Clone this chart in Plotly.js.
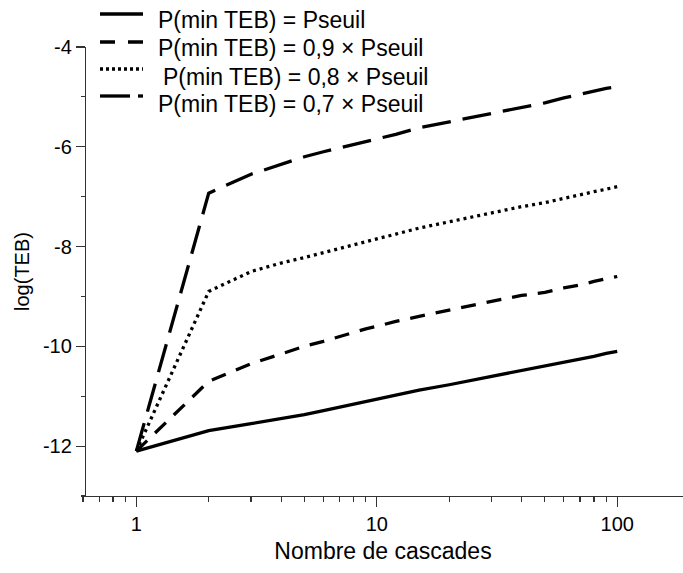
<!DOCTYPE html>
<html>
<head>
<meta charset="utf-8">
<script src="https://cdn.plot.ly/plotly-3.0.1.min.js"></script>
<style>
html,body{margin:0;padding:0;background:#fff;}
#chart{width:683px;height:573px;}
</style>
</head>
<body>
<div id="chart"></div>
<script>
// Number of cascades (x values)
const cascades = [1,2,3,4,5,6,7,8,9,10,12,15,20,25,30,40,50,60,70,80,90,100];
// log(TEB) series
const teb_100 = [-12.1,-11.69,-11.55,-11.45,-11.37,-11.29,-11.22,-11.16,-11.1,-11.05,-10.97,-10.88,-10.77,-10.68,-10.6,-10.48,-10.4,-10.32,-10.25,-10.2,-10.14,-10.1];
const teb_090 = [-12.1,-10.7,-10.35,-10.15,-10.0,-9.9,-9.8,-9.72,-9.65,-9.6,-9.5,-9.4,-9.27,-9.18,-9.1,-8.98,-8.92,-8.83,-8.77,-8.7,-8.65,-8.6];
const teb_080 = [-12.1,-8.9,-8.5,-8.33,-8.22,-8.12,-8.03,-7.97,-7.9,-7.85,-7.75,-7.63,-7.5,-7.4,-7.32,-7.2,-7.12,-7.03,-6.97,-6.9,-6.85,-6.8];
const teb_070 = [-12.1,-6.93,-6.55,-6.35,-6.2,-6.1,-6.02,-5.95,-5.89,-5.85,-5.75,-5.62,-5.5,-5.4,-5.32,-5.2,-5.12,-5.02,-4.95,-4.88,-4.83,-4.8];
const seriesNames = [
  "P(min TEB) = Pseuil",
  "P(min TEB) = 0,9 \u00d7 Pseuil",
  "P(min TEB) = 0,8 \u00d7 Pseuil",
  "P(min TEB) = 0,7 \u00d7 Pseuil"
];
const yTickVals = [-12,-10,-8,-6,-4];
const yTickText = ["-12","-10","-8","-6","-4"];
const yMinorVals = [-13,-11,-9,-7,-5];
const xTickVals = [1,10,100];
const xTickText = ["1","10","100"];
const xMinorVals = [0.6,0.7,0.8,0.9,2,3,4,5,6,7,8,9,20,30,40,50,60,70,80,90,200];

const dashes = ["solid","15px,11px","3px,4px","29px,12px"];
const allY = [teb_100, teb_090, teb_080, teb_070];

const traces = allY.map((ys,i)=>({
  x: cascades, y: ys, type:'scatter', mode:'lines', name: seriesNames[i],
  line:{color:'#000', width:3.3, dash:dashes[i]}, showlegend:false
}));

const FAM = '"Liberation Sans", Arial, sans-serif';
const font = {family:FAM, size:20, color:'#000'};

// ---- hand-drawn legend (positions in pixels converted to paper coords) ----
const ML = 83, MR = 0, MT = 47, MB = 77, W = 683, H = 573;
const pw = W - ML - MR, ph = H - MT - MB;
const px2x = p => (p - ML) / pw;
const py2y = p => (H - MB - p) / ph;
const legLineY = [14, 42, 69, 96];
const legTextY = [20, 48, 76.5, 104];
const legTextX = [156, 156, 161, 156];
const legDash = ["solid","15px,13px","3px,3px","solid"];
const shapes = [];
const annotations = [];
for (let i = 0; i < 4; i++) {
  if (i < 3) {
    shapes.push({type:'line', xref:'paper', yref:'paper',
      x0:px2x(100), x1:px2x(143), y0:py2y(legLineY[i]), y1:py2y(legLineY[i]),
      line:{color:'#000', width:3.3, dash:legDash[i]}});
  } else {
    shapes.push({type:'line', xref:'paper', yref:'paper',
      x0:px2x(100), x1:px2x(130), y0:py2y(legLineY[i]), y1:py2y(legLineY[i]),
      line:{color:'#000', width:3.3}});
    shapes.push({type:'line', xref:'paper', yref:'paper',
      x0:px2x(138), x1:px2x(143), y0:py2y(legLineY[i]), y1:py2y(legLineY[i]),
      line:{color:'#000', width:3.3}});
  }
  annotations.push({text:seriesNames[i], xref:'paper', yref:'paper',
    x:px2x(legTextX[i]), y:py2y(legTextY[i]), xanchor:'left', yanchor:'middle',
    showarrow:false, font:{family:FAM, size:23, color:'#000'}});
}

const layout = {
  width:W, height:H,
  margin:{l:ML, r:MR, t:MT, b:MB, pad:0},
  paper_bgcolor:'#fff', plot_bgcolor:'#fff',
  font: font,
  showlegend:false,
  shapes: shapes,
  annotations: annotations,
  xaxis:{
    type:'log', range:[Math.log10(0.6), 2.2735],
    tickmode:'array', tickvals:xTickVals, ticktext:xTickText,
    ticks:'outside', ticklen:10, tickwidth:1.2, tickcolor:'#333',
    showline:true, linecolor:'#333', linewidth:1.2,
    showgrid:false, zeroline:false,
    minor:{tickmode:'array', tickvals:xMinorVals, ticks:'outside', ticklen:5, tickwidth:1.2, tickcolor:'#333', showgrid:false},
    title:{text:'Nombre de cascades', font:{family:FAM, size:23, color:'#000'}, standoff:8},
    tickfont:font
  },
  yaxis:{
    range:[-13,-4], anchor:'free', position:0.003,
    tickmode:'array', tickvals:yTickVals, ticktext:yTickText,
    ticks:'outside', ticklen:9, tickwidth:1.2, tickcolor:'#333',
    showline:true, linecolor:'#333', linewidth:1.2,
    showgrid:false, zeroline:false,
    minor:{tickmode:'array', tickvals:yMinorVals, ticks:'outside', ticklen:4, tickwidth:1.2, tickcolor:'#333', showgrid:false},
    title:{text:'log(TEB)', font:{family:FAM, size:20, color:'#000'}, standoff:6},
    tickfont:font
  }
};

Plotly.newPlot('chart', traces, layout, {displayModeBar:false, staticPlot:true});
</script>
</body>
</html>
